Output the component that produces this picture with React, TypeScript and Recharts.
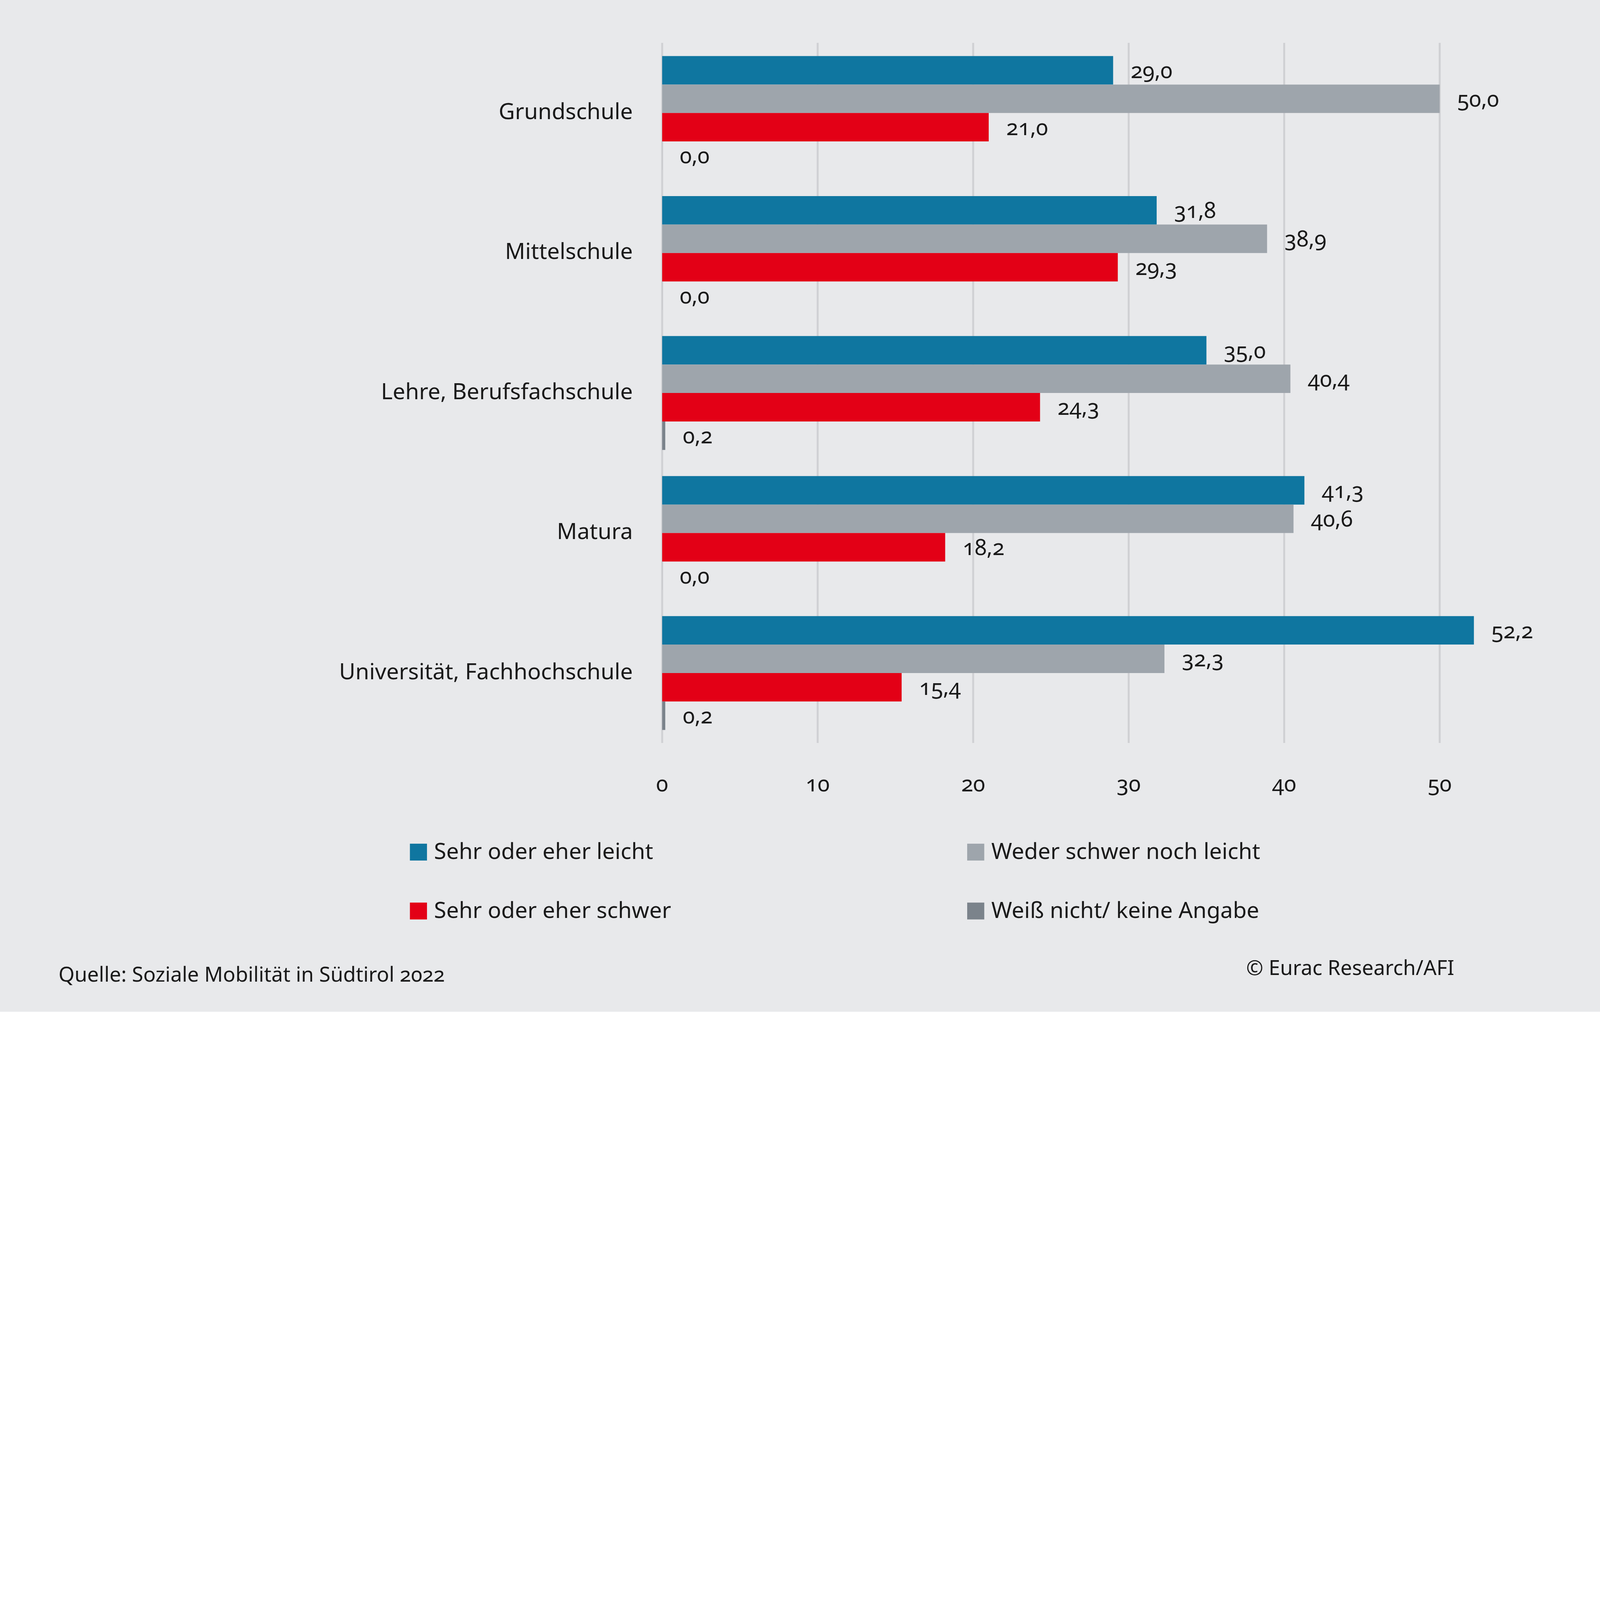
import React from 'react';
import { BarChart, Bar, XAxis, YAxis, CartesianGrid, LabelList } from 'recharts';

const categories = ['Grundschule', 'Mittelschule', 'Lehre, Berufsfachschule', 'Matura', 'Universität, Fachhochschule'];
const leicht = [29.0, 31.8, 35.0, 41.3, 52.2];
const weder = [50.0, 38.9, 40.4, 40.6, 32.3];
const schwer = [21.0, 29.3, 24.3, 18.2, 15.4];
const weissNicht = [0.0, 0.0, 0.2, 0.0, 0.2];
const seriesKeys = ['leicht', 'weder', 'schwer', 'weissNicht'];
const seriesNames = ['Sehr oder eher leicht', 'Weder schwer noch leicht', 'Sehr oder eher schwer', 'Weiß nicht/ keine Angabe'];
const seriesColors = ['#0F76A0', '#9EA5AC', '#E30016', '#7B838B'];
const xTicks = [0, 10, 20, 30, 40, 50];
const xMax = 56;
const sourceText = 'Quelle: Soziale Mobilität in Südtirol 2022';
const copyrightText = '© Eurac Research/AFI';

const data = categories.map((c, i) => ({
  category: c,
  leicht: leicht[i],
  weder: weder[i],
  schwer: schwer[i],
  weissNicht: weissNicht[i],
}));

const FONT = "'Noto Sans', 'Open Sans', sans-serif";
const W = 7307;
const H = 4621;
const TEXT = '#1a1a1a';

const fmt = (v: any) => Number(v).toFixed(1).replace('.', ',');

const legendPos = [
  { x: 1872, y: 3853 },
  { x: 4417, y: 3853 },
  { x: 1872, y: 4122 },
  { x: 4417, y: 4122 },
];

const gridX = (props: any) => {
  const sc = props && props.xAxis && props.xAxis.scale;
  if (typeof sc === 'function') {
    const r = xTicks.map((t) => sc(t));
    if (r.every((v) => typeof v === 'number' && isFinite(v))) return r;
  }
  const off = props.offset;
  return xTicks.map((t) => off.left + (t / xMax) * off.width);
};

export default function App() {
  const vw = typeof window !== 'undefined' ? window.innerWidth : W;
  const vh = typeof window !== 'undefined' ? window.innerHeight : H;
  const s = Math.min(1, vw / W, vh / H);
  return (
    <div
      style={{
        position: 'absolute',
        left: 0,
        top: 0,
        width: W * s,
        height: H * s,
        overflow: 'hidden',
        background: '#E8E9EB',
      }}
    >
      <div
        style={{
          position: 'absolute',
          left: 0,
          top: 0,
          width: W,
          height: H,
          transform: `scale(${s})`,
          transformOrigin: '0 0',
          background: '#E8E9EB',
          fontFamily: FONT,
          fontVariantNumeric: 'oldstyle-nums',
        }}
      >
        <BarChart
          width={W}
          height={H}
          data={data}
          layout="vertical"
          margin={{ top: 196, right: 306, left: 0, bottom: 928 }}
          barGap={0}
          barSize={130}
        >
          <CartesianGrid
            horizontal={false}
            vertical
            verticalCoordinatesGenerator={gridX}
            stroke="#D0D1D4"
            strokeWidth={9}
          />
          <XAxis
            type="number"
            domain={[0, xMax]}
            ticks={xTicks}
            axisLine={false}
            tickLine={false}
            tickSize={0}
            tickMargin={150}
            height={300}
            tick={{ fontSize: 100, fill: TEXT, fontFamily: FONT }}
          />
          <YAxis
            type="category"
            dataKey="category"
            width={3024}
            axisLine={false}
            tickLine={false}
            tickSize={0}
            tickMargin={134}
            interval={0}
            tick={{ fontSize: 102, fill: TEXT, fontFamily: FONT, dy: -8 }}
          />
          {seriesKeys.map((k, i) => (
            <Bar
              key={k}
              dataKey={k}
              name={seriesNames[i]}
              fill={seriesColors[i]}
              minPointSize={0.3}
              isAnimationActive={false}
            >
              <LabelList
                dataKey={k}
                position="right"
                offset={80}
                formatter={fmt}
                style={{ fontSize: 100, fill: TEXT, fontFamily: FONT }}
              />
            </Bar>
          ))}
        </BarChart>
        <svg
          width={W}
          height={H}
          style={{ position: 'absolute', left: 0, top: 0, pointerEvents: 'none' }}
        >
          {seriesNames.map((n, i) => (
            <g key={n}>
              <rect x={legendPos[i].x} y={legendPos[i].y} width={78} height={77} fill={seriesColors[i]} />
              <text x={legendPos[i].x + 110} y={legendPos[i].y + 70} fontSize={102} fill={TEXT} fontFamily={FONT}>
                {n}
              </text>
            </g>
          ))}
          <text x={267} y={4483} fontSize={94} fill={TEXT} fontFamily={FONT}>
            {sourceText}
          </text>
          <text x={5691} y={4452} fontSize={94} fill={TEXT} fontFamily={FONT}>
            {copyrightText}
          </text>
        </svg>
      </div>
    </div>
  );
}
